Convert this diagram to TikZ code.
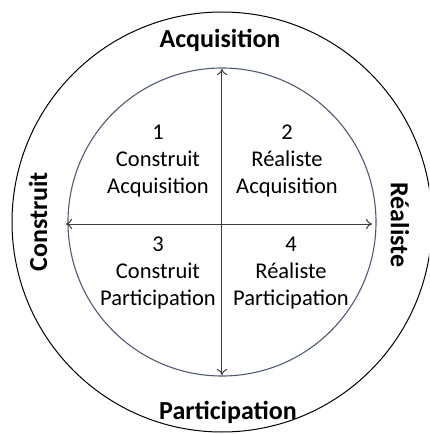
\documentclass[tikz,border=0pt]{standalone}
\usepackage{fontspec}
\setmainfont{Carlito}
\usetikzlibrary{arrows.meta}
\definecolor{ringgray}{RGB}{80,90,115}
\definecolor{axisgray}{RGB}{60,60,60}

\begin{document}
\begin{tikzpicture}[x=1pt,y=1pt,
  quad/.style={align=center,font=\fontsize{22.5}{27}\selectfont},
  side/.style={font=\fontsize{26}{30}\selectfont\bfseries}]
\useasboundingbox (-222,-212) rectangle (207,222);
\clip (-222,-212) rectangle (207,222);

% rings
\draw[black,line width=1pt] (0,0) circle (210);
\draw[ringgray,line width=1.1pt] (0,0) circle (154);

% axes
\coordinate (N) at (0,153);
\coordinate (S) at (0,-153);
\coordinate (W) at (-156,-2);
\coordinate (E) at (150,-2);
\draw[axisgray,line width=1pt,<->,>={To[length=6pt,width=10pt]}] (W) -- (E);
\draw[axisgray,line width=1pt,<->,>={To[length=6pt,width=10pt]}] (S) -- (N);

% quadrants
\node[quad] (q1) at (-64,61) {1\\Construit\\Acquisition};
\node[quad] (q2) at (65,61) {2\\Réaliste\\Acquisition};
\node[quad] (q3) at (-64,-51) {3\\Construit\\Participation};
\node[quad] (q4) at (69,-51) {4\\Réaliste\\Participation};

% outer labels
\node[side] (acq) at (-2,182) {Acquisition};
\node[side] (par) at (6,-190) {Participation};
\node[side,rotate=90] (con) at (-184,0) {Construit};
\node[side,rotate=-90] (rea) at (178,-3) {Réaliste};

\end{tikzpicture}
\end{document}
